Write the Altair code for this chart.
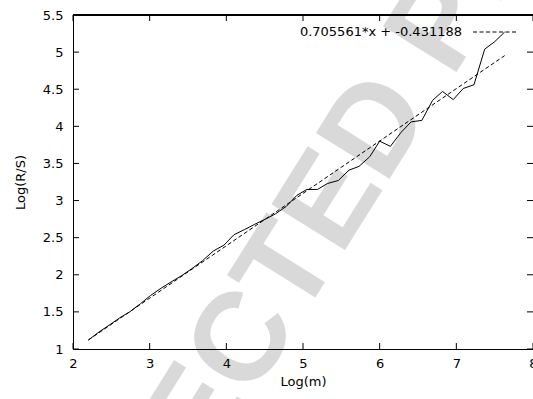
import altair as alt
import pandas as pd

# ---- data ----
log_m = [2.20, 2.34, 2.47, 2.61, 2.74, 2.88, 3.01, 3.15, 3.29, 3.42,
         3.56, 3.69, 3.83, 3.97, 4.10, 4.24, 4.37, 4.51, 4.64, 4.78,
         4.92, 5.05, 5.19, 5.32, 5.46, 5.60, 5.73, 5.87, 6.00, 6.14,
         6.28, 6.41, 6.55, 6.69, 6.82, 6.96, 7.09, 7.23, 7.37, 7.50, 7.63]
log_rs = [1.12, 1.23, 1.32, 1.42, 1.50, 1.61, 1.72, 1.82, 1.91, 1.99,
          2.09, 2.19, 2.32, 2.40, 2.54, 2.61, 2.68, 2.75, 2.82, 2.92,
          3.07, 3.15, 3.15, 3.23, 3.27, 3.41, 3.46, 3.59, 3.80, 3.73,
          3.92, 4.06, 4.08, 4.35, 4.47, 4.36, 4.51, 4.56, 5.04, 5.14, 5.27]

SLOPE = 0.705561
INTERCEPT = -0.431188
fit_range = [2.2, 7.63]

x_ticks = [2, 3, 4, 5, 6, 7, 8]
y_ticks = [1, 1.5, 2, 2.5, 3, 3.5, 4, 4.5, 5, 5.5]
WATERMARK = "UNCORRECTED PROOF"

# ---- layout ----
W, H = 460, 334
FONT = "DejaVu Sans"
TICK = 6

xscale = alt.Scale(domain=[2, 8], nice=False, zero=False)
yscale = alt.Scale(domain=[1, 5.5], nice=False, zero=False)

x_axis = alt.Axis(values=x_ticks, title="Log(m)", ticks=False, tickSize=0, grid=False,
                  domainColor="black", domainWidth=1, labelFont=FONT, labelFontSize=13,
                  labelColor="black", titleFont=FONT, titleFontSize=13,
                  titleFontWeight="normal", titleColor="black", labelPadding=8,
                  titlePadding=5, zindex=1, labelFlush=False, format="~g")
y_axis = alt.Axis(values=y_ticks, title="Log(R/S)", ticks=False, tickSize=0, grid=False,
                  domainColor="black", domainWidth=1, labelFont=FONT, labelFontSize=13,
                  labelColor="black", titleFont=FONT, titleFontSize=13,
                  titleFontWeight="normal", titleColor="black", labelPadding=10,
                  titlePadding=15, zindex=1, labelFlush=False, format="~g")

df = pd.DataFrame({"logm": log_m, "logrs": log_rs})
fit_df = pd.DataFrame({"logm": fit_range})

watermark = alt.Chart(pd.DataFrame({"w": [WATERMARK]})).mark_text(
    font="Liberation Sans", fontWeight="bold", fontSize=126, angle=302,
    align="left", baseline="alphabetic", color="#d9d9d9"
).encode(text="w:N", x=alt.value(-159), y=alt.value(925))

fit_line = alt.Chart(fit_df).transform_calculate(
    fit=f"{SLOPE} * datum.logm + ({INTERCEPT})"
).mark_line(color="black", strokeWidth=1, strokeDash=[4, 2.5]).encode(
    x=alt.X("logm:Q", scale=xscale, axis=x_axis),
    y=alt.Y("fit:Q", scale=yscale, axis=y_axis),
)

data_line = alt.Chart(df).mark_line(color="black", strokeWidth=1).encode(
    x=alt.X("logm:Q", scale=xscale, axis=x_axis),
    y=alt.Y("logrs:Q", scale=yscale, axis=y_axis),
)

xt = pd.DataFrame({"t": x_ticks})
yt = pd.DataFrame({"t": y_ticks})

bottom_ticks = alt.Chart(xt).mark_rule(color="black", strokeWidth=1).encode(
    x=alt.X("t:Q", scale=xscale, axis=x_axis), y=alt.value(H), y2=alt.value(H - TICK))
top_ticks = alt.Chart(xt).mark_rule(color="black", strokeWidth=1).encode(
    x=alt.X("t:Q", scale=xscale, axis=x_axis), y=alt.value(0), y2=alt.value(TICK))
left_ticks = alt.Chart(yt).mark_rule(color="black", strokeWidth=1).encode(
    y=alt.Y("t:Q", scale=yscale, axis=y_axis), x=alt.value(0), x2=alt.value(TICK))
right_ticks = alt.Chart(yt).mark_rule(color="black", strokeWidth=1).encode(
    y=alt.Y("t:Q", scale=yscale, axis=y_axis), x=alt.value(W - TICK), x2=alt.value(W))

top_border = alt.Chart(xt).mark_rule(color="black", strokeWidth=1).encode(
    x=alt.value(0), x2=alt.value(W), y=alt.value(0))

legend_text = alt.Chart(pd.DataFrame({"lab": [f"{SLOPE}*x + {INTERCEPT}"]})).mark_text(
    font=FONT, fontSize=13, align="right", baseline="middle", color="black"
).encode(text="lab:N", x=alt.value(389), y=alt.value(17))
legend_sample = alt.Chart(pd.DataFrame({"lab": ["fit"]})).mark_rule(
    color="black", strokeWidth=1, strokeDash=[4, 2.5]
).encode(x=alt.value(400), x2=alt.value(443), y=alt.value(17))

chart = alt.layer(
    watermark, fit_line, data_line, bottom_ticks, top_ticks, left_ticks,
    right_ticks, top_border, legend_text, legend_sample
).properties(
    width=W, height=H,
    autosize=alt.AutoSizeParams(type="none"),
    padding={"left": 73, "top": 15, "right": 0, "bottom": 50},
    background="white",
).configure_view(stroke=None)

chart.save("out.html", embed_options={"renderer": "svg", "actions": False})
